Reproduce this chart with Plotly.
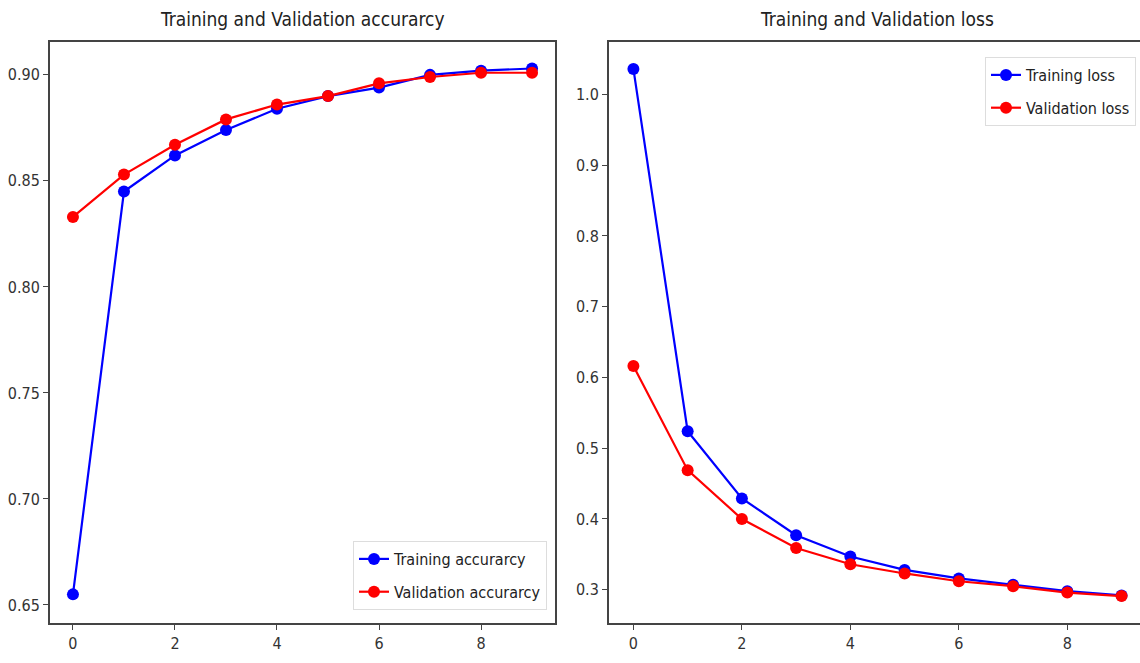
import plotly.graph_objects as go

epochs = list(range(10))
train_acc = [0.655, 0.845, 0.862, 0.874, 0.884, 0.890, 0.894, 0.900, 0.902, 0.903]
val_acc = [0.833, 0.853, 0.867, 0.879, 0.886, 0.890, 0.896, 0.899, 0.901, 0.901]
train_loss = [1.036, 0.524, 0.429, 0.377, 0.347, 0.328, 0.316, 0.307, 0.298, 0.292]
val_loss = [0.616, 0.469, 0.400, 0.359, 0.336, 0.323, 0.312, 0.305, 0.296, 0.291]
acc_ticks = [0.65, 0.70, 0.75, 0.80, 0.85, 0.90]
loss_ticks = [0.3, 0.4, 0.5, 0.6, 0.7, 0.8, 0.9, 1.0]
x_ticks = [0, 2, 4, 6, 8]

FONT = "DejaVu Sans Condensed, DejaVu Sans, sans-serif"
BLUE = "#0000ff"
RED = "#ff0000"
W, H = 1140, 663

fig = go.Figure()

def add(x, y, name, color, xa, ya, legend):
    fig.add_trace(go.Scatter(
        x=x, y=y, name=name, mode="lines+markers",
        line=dict(color=color, width=2.2),
        marker=dict(color=color, size=12),
        xaxis=xa, yaxis=ya, legend=legend, legendgroup=name,
    ))

add(epochs, train_acc, "Training accurarcy", BLUE, "x", "y", "legend")
add(epochs, val_acc, "Validation accurarcy", RED, "x", "y", "legend")
add(epochs, train_loss, "Training loss", BLUE, "x2", "y2", "legend2")
add(epochs, val_loss, "Validation loss", RED, "x2", "y2", "legend2")

ydom = [1 - 623 / H, 1 - 42 / H]
axis_common = dict(
    showgrid=False, zeroline=False, showline=True, linecolor="#444", linewidth=2,
    ticks="outside", ticklen=5, tickwidth=1.2, tickcolor="#444",
    tickfont=dict(family=FONT, size=16, color="#333"),
)
legend_common = dict(
    bgcolor="rgba(255,255,255,0.85)", bordercolor="#ddd", borderwidth=1,
    font=dict(family=FONT, size=16, color="#222"),
    traceorder="grouped", tracegroupgap=9,
)

fig.update_layout(
    width=W, height=H,
    margin=dict(l=0, r=0, t=0, b=0),
    paper_bgcolor="white", plot_bgcolor="white",
    font=dict(family=FONT, size=16, color="#333"),
    xaxis=dict(domain=[50 / W, 555 / W], range=[-0.45, 9.45], tickvals=x_ticks,
               mirror=True, anchor="y", **axis_common),
    yaxis=dict(domain=ydom, range=[0.6415, 0.9155], tickvals=acc_ticks,
               tickformat=".2f", mirror=True, anchor="x", **axis_common),
    xaxis2=dict(domain=[609 / W, 1.0], range=[-0.45, 9.34], tickvals=x_ticks,
                mirror=True, anchor="y2", **axis_common),
    yaxis2=dict(domain=ydom, range=[0.253, 1.074], tickvals=loss_ticks,
                tickformat=".1f", mirror=False, anchor="x2", **axis_common),
    legend=dict(x=547 / W, y=1 - 610 / H, xanchor="right", yanchor="bottom", **legend_common),
    legend2=dict(x=1136 / W, y=1 - 57 / H, xanchor="right", yanchor="top", **legend_common),
    showlegend=True,
    annotations=[
        dict(text="Training and Validation accurarcy", x=(50 + 555) / 2 / W, y=1 - 19 / H,
             xref="paper", yref="paper", showarrow=False, xanchor="center", yanchor="middle",
             font=dict(family=FONT, size=19, color="#222")),
        dict(text="Training and Validation loss", x=877 / W, y=1 - 19 / H,
             xref="paper", yref="paper", showarrow=False, xanchor="center", yanchor="middle",
             font=dict(family=FONT, size=19, color="#222")),
    ],
)

fig.write_html("out.html", config={"displayModeBar": False})

# remove the default page margin so the figure sits at the window's origin
with open("out.html", "r", encoding="utf-8") as f:
    html = f.read()
html = html.replace("<head>", "<head><style>html,body{margin:0;padding:0;overflow:hidden;}</style>", 1)
with open("out.html", "w", encoding="utf-8") as f:
    f.write(html)
